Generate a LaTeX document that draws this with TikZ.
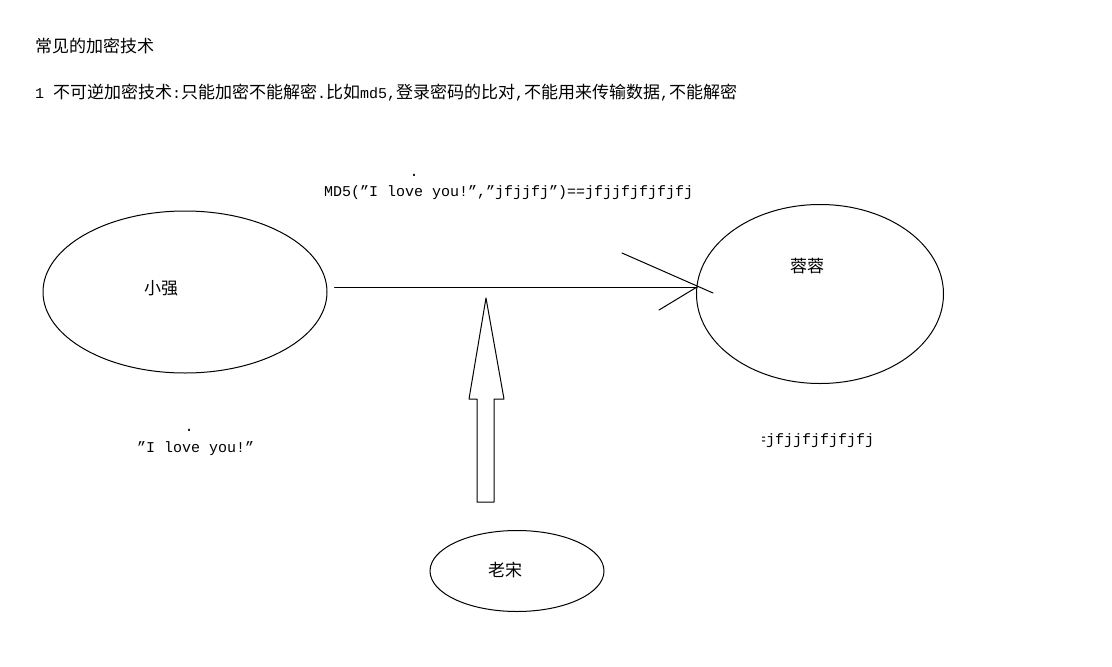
\documentclass[tikz,border=0pt]{standalone}
\usepackage{fontspec}
\setmainfont{Liberation Mono}
\newfontfamily\cjk{Noto Sans CJK SC}
\newcommand{\hanzi}[1]{{\cjk\fontsize{17}{20}\selectfont #1}}
\usetikzlibrary{shapes.geometric}
\begin{document}
\begin{tikzpicture}[x=1pt, y=-1pt, line join=round, line cap=round,
    wire/.style={line width=1pt},
    person/.style={draw, ellipse, line width=1pt, inner sep=0pt},
    zh/.style={inner sep=0pt, font=\cjk\fontsize{17}{20}\selectfont},
    en/.style={inner sep=0pt, font=\fontsize{15}{18}\selectfont}]
            \useasboundingbox (0,0) rectangle (1112,667);

            % heading lines
            \node[zh, anchor=west] (title) at (35,46) {常见的加密技术};
            \node[en, anchor=west] (rule) at (35,93) {1 \hanzi{不可逆加密技术}:\hanzi{只能加密不能解密}.\hanzi{比如}md5,\hanzi{登录密码的比对},\hanzi{不能用来传输数据},\hanzi{不能解密}};

            % the three people
            \node[person, minimum width=284, minimum height=162] (qiang) at (185,292) {};
            \node[person, minimum width=247, minimum height=179] (rong) at (820,294) {};
            \node[person, minimum width=174, minimum height=81] (song) at (517,571) {};
            \node[zh] (qianglabel) at (161,288) {小强};
            \node[zh] (ronglabel) at (807,266) {蓉蓉};
            \node[zh] (songlabel) at (505,570) {老宋};

            % texts
            \node[en] (dotup) at (414,175) {.};
            \node[en, anchor=west] (hash) at (324,193) {MD5("I love you!","jfjjfj")==jfjjfjfjfjfj};
            \node[en] (dotdown) at (189,430) {.};
            \node[en, anchor=west] (plain) at (137,449) {"I love you!"};
            \begin{scope}
                \clip (762,425) rectangle (900,460);
                \node[en, anchor=west] (digest) at (757,441) {=jfjjfjfjfjfj};
            \end{scope}

            % message from qiang to rong
            \coordinate (send) at ([shift={(7,-5)}]qiang.east);
            \coordinate (tip) at (697,287);
            \draw[wire] (send) -- (tip);
            \draw[wire] (tip) ++(-75,-34) -- ++(91,40);
            \draw[wire] (tip) ++(-38,23) -- (tip);

            % song listening in
            \draw[wire] (486,298) -- (504,399) -- (494,399) -- (494,502)
                -- (477,502) -- (477,399) -- (469,399) -- cycle;
        \end{tikzpicture}
\end{document}
